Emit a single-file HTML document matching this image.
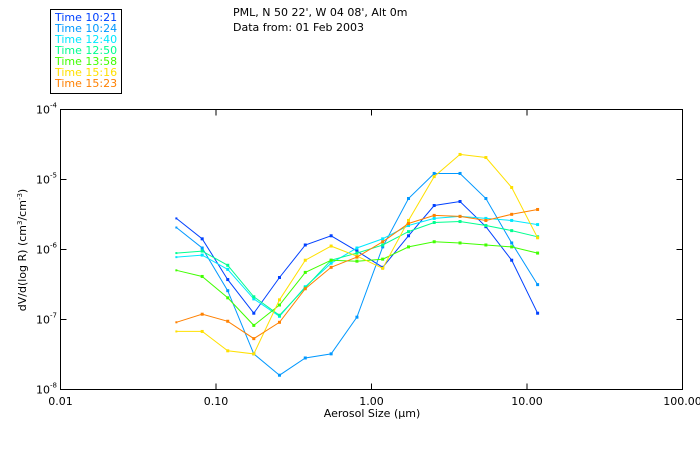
<!DOCTYPE html>
<html><head><meta charset="utf-8"><style>
body{margin:0;background:#fff;}
svg{display:block;font-family:"DejaVu Sans","Liberation Sans",sans-serif;}
</style></head><body>
<svg id="chart" width="700" height="450" viewBox="0 0 700 450" xmlns="http://www.w3.org/2000/svg">
<text x="233" y="16" font-size="11">PML, N 50 22', W 04 08', Alt 0m</text>
<text x="233" y="31" font-size="11">Data from: 01 Feb 2003</text>
<rect x="50.5" y="9.5" width="71" height="84" fill="none" stroke="#000"/>
<g id="legend"></g>
<rect x="60.5" y="109.5" width="622" height="280" fill="none" stroke="#000"/>
<g id="axes"></g>
<g id="series"></g>
<text x="372" y="417" font-size="11" text-anchor="middle">Aerosol Size (μm)</text>
<text transform="translate(26,250) rotate(-90)" font-size="11" text-anchor="middle">dV/d(log R) (cm<tspan font-size="7" dy="-4">3</tspan><tspan dy="4">/cm</tspan><tspan font-size="7" dy="-4">-3</tspan><tspan dy="4">)</tspan></text>
</svg>
<script>
const sizes = [0.0556,0.0815,0.119,0.175,0.256,0.375,0.55,0.806,1.18,1.73,2.53,3.71,5.44,7.97,11.7];
const seriesNames = ["Time 10:21","Time 10:24","Time 12:40","Time 12:50","Time 13:58","Time 15:16","Time 15:23"];
const seriesColors = ["#0040ff","#0098ff","#00e8ff","#00ff90","#40ff00","#ffe000","#ff8000"];
const s1021 = [2.78e-6,1.42e-6,3.72e-7,1.23e-7,3.98e-7,1.16e-6,1.57e-6,9.5e-7,5.56e-7,1.57e-6,4.25e-6,4.85e-6,2.12e-6,7.03e-7,1.23e-7];
const s1024 = [2.06e-6,1.05e-6,2.58e-7,3.23e-8,1.60e-8,2.82e-8,3.23e-8,1.08e-7,1.09e-6,5.35e-6,1.22e-5,1.22e-5,5.35e-6,1.24e-6,3.15e-7];
const s1240 = [7.78e-7,8.32e-7,5.2e-7,1.97e-7,1.11e-7,2.94e-7,6.37e-7,1.05e-6,1.42e-6,2.2e-6,2.78e-6,2.97e-6,2.78e-6,2.6e-6,2.27e-6];
const s1250 = [8.89e-7,9.5e-7,5.95e-7,2.11e-7,1.15e-7,2.85e-7,7.03e-7,8.89e-7,1.16e-6,1.80e-6,2.43e-6,2.51e-6,2.2e-6,1.86e-6,1.52e-6];
const s1358 = [5.04e-7,4.12e-7,2.04e-7,8.24e-8,1.61e-7,4.71e-7,7.03e-7,6.81e-7,7.28e-7,1.09e-6,1.29e-6,1.24e-6,1.16e-6,1.09e-6,8.89e-7];
const s1516 = [6.75e-8,6.75e-8,3.57e-8,3.23e-8,1.91e-7,7.03e-7,1.12e-6,8.04e-7,5.38e-7,2.6e-6,1.10e-5,2.28e-5,2.06e-5,7.69e-6,1.47e-6];
const s1523 = [9.12e-8,1.19e-7,9.44e-8,5.33e-8,9.12e-8,2.75e-7,5.56e-7,7.78e-7,1.29e-6,2.35e-6,3.07e-6,2.97e-6,2.6e-6,3.18e-6,3.73e-6];
const allSeries = [s1021,s1024,s1240,s1250,s1358,s1516,s1523];
const xTickLabels = ["0.01","0.10","1.00","10.00","100.00"];
const yTickExps = ["-4","-5","-6","-7","-8"];

const NS="http://www.w3.org/2000/svg";
const L=60.5,R=682.5,T=109.5,B=389.5;
function xs(v){return L+(Math.log10(v)+2)/4*(R-L);}
function ys(v){return T+(-4-Math.log10(v))/4*(B-T);}
function mk(tag,attrs,parent){const e=document.createElementNS(NS,tag);for(const k in attrs)e.setAttribute(k,attrs[k]);parent.appendChild(e);return e;}
const axes=document.getElementById('axes');
xTickLabels.forEach((lab,i)=>{
  const x=xs(Math.pow(10,i-2));
  if(i>0&&i<4){
    const t1=mk('line',{x1:x,x2:x,y1:B,y2:B-6,stroke:'#000'},axes);
    
    
    const t2=mk('line',{x1:x,x2:x,y1:T,y2:T+6,stroke:'#000'},axes);
    
    
  }
  const tx=mk('text',{x:x,y:405,'font-size':11,'text-anchor':'middle'},axes);
  tx.textContent=lab;
  
  
});
yTickExps.forEach((ex,i)=>{
  const y=ys(Math.pow(10,-4-i));
  if(i>0&&i<4){
    const t1=mk('line',{x1:L,x2:L+6,y1:y,y2:y,stroke:'#000'},axes);
    
    
    const t2=mk('line',{x1:R,x2:R-6,y1:y,y2:y,stroke:'#000'},axes);
    
    
  }
  const tx=mk('text',{x:36,y:y+4,'font-size':11},axes);
  
  
  tx.textContent='10';
  const sp=mk('tspan',{'font-size':7,dy:-6},tx);
  sp.textContent=ex;
});
const sg=document.getElementById('series');
allSeries.forEach((vals,si)=>{
  const c=seriesColors[si];
  const g=mk('g',{},sg);
  
  
  const pts=vals.map((v,i)=>xs(sizes[i]).toFixed(1)+','+ys(vals[i]).toFixed(1)).join(' ');
  const pl=mk('polyline',{points:pts,fill:'none',stroke:c,'stroke-width':1},g);
  
  
  vals.forEach((v,i)=>{
    const s=i===0?2:3;
    const r=mk('rect',{x:xs(sizes[i])-s/2,y:ys(v)-s/2,width:s,height:s,fill:c},g);
    
    
  });
});
const lg=document.getElementById('legend');
seriesNames.forEach((n,i)=>{
  const t=mk('text',{x:55,y:21+i*11,'font-size':11,fill:seriesColors[i]},lg);
  t.textContent=n;
  
  
});
</script>
</body></html>
